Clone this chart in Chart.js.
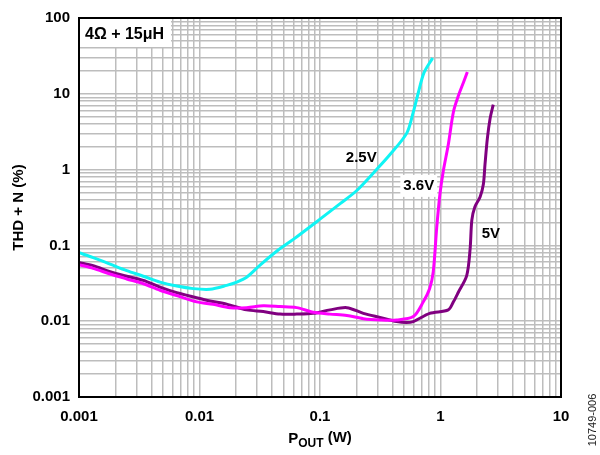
<!DOCTYPE html>
<html>
<head>
<meta charset="utf-8">
<script src="https://cdn.jsdelivr.net/npm/chart.js@4"></script>
<style>
  html, body { margin: 0; padding: 0; background: #fff; }
  #wrap { width: 600px; height: 455px; }
</style>
</head>
<body>
<div id="wrap"><canvas id="myChart" width="600" height="455"></canvas></div>
<script>
// valori (P in W, THD+N in %)
const x25 = [0.001, 0.00131, 0.00181, 0.00249, 0.00342, 0.0047, 0.00647, 0.0089, 0.0122, 0.0168, 0.0204, 0.0246, 0.0318, 0.045, 0.06, 0.1, 0.147, 0.202, 0.296, 0.381, 0.525, 0.595, 0.655, 0.73, 0.861];
const y25 = [0.080, 0.069, 0.0566, 0.0465, 0.0392, 0.0328, 0.0291, 0.0269, 0.0264, 0.0297, 0.0328, 0.038, 0.055, 0.087, 0.12, 0.222, 0.356, 0.53, 1.01, 1.58, 3.03, 5.76, 10.4, 19, 29.7];

const x36 = [0.001, 0.00131, 0.00181, 0.00249, 0.00342, 0.0047, 0.00647, 0.00948, 0.013, 0.0179, 0.0246, 0.0338, 0.0466, 0.064, 0.088, 0.121, 0.167, 0.229, 0.315, 0.433, 0.595, 0.72, 0.813, 0.871, 0.93, 0.99, 1.055, 1.16, 1.28, 1.41, 1.55, 1.67];
const y36 = [0.0556, 0.0498, 0.042, 0.0361, 0.0312, 0.0256, 0.0218, 0.018, 0.0167, 0.0151, 0.0151, 0.016, 0.0156, 0.0151, 0.0131, 0.0124, 0.0119, 0.0108, 0.0104, 0.0104, 0.0115, 0.018, 0.027, 0.045, 0.17, 0.48, 0.96, 2.13, 5.76, 9.5, 14.1, 19.4];

const x5 = [0.001, 0.00131, 0.00181, 0.00249, 0.00342, 0.0047, 0.00647, 0.0089, 0.0122, 0.0168, 0.0246, 0.0338, 0.0466, 0.064, 0.088, 0.121, 0.167, 0.229, 0.315, 0.433, 0.52, 0.595, 0.813, 1.16, 1.28, 1.41, 1.65, 1.76, 1.82, 1.93, 2.13, 2.27, 2.34, 2.45, 2.58, 2.74];
const y5 = [0.0596, 0.054, 0.0451, 0.0392, 0.0345, 0.0282, 0.0238, 0.0209, 0.0185, 0.0168, 0.0141, 0.0134, 0.0124, 0.0124, 0.0127, 0.0141, 0.0151, 0.0127, 0.0112, 0.0099, 0.0096, 0.0099, 0.0127, 0.0141, 0.018, 0.0243, 0.040, 0.0885, 0.216, 0.323, 0.435, 0.647, 1.17, 2.6, 4.73, 7.18];

const xDecades = [0.001, 0.01, 0.1, 1, 10];
const xTickLabels = ['0.001', '0.01', '0.1', '1', '10'];
const yDecades = [0.001, 0.01, 0.1, 1, 10, 100];
const yTickLabels = ['0.001', '0.01', '0.1', '1', '10', '100'];

const curveLabels = [
  { text: '2.5V', x: 0.22, y: 1.45, box: false },
  { text: '3.6V', x: 0.66, y: 0.61, box: true },
  { text: '5V', x: 2.62, y: 0.141, box: false }
];

function punti(xs, ys) {
  return xs.map((v, i) => ({ x: v, y: ys[i] }));
}

function logTicks(decades) {
  const t = [];
  decades.forEach((d, i) => {
    if (i === decades.length - 1) { t.push({ value: d }); return; }
    for (let s = 1; s <= 9; s++) t.push({ value: d * s });
  });
  return t;
}

function labelFor(value, decades, labels) {
  for (let i = 0; i < decades.length; i++) {
    if (Math.abs(value - decades[i]) / decades[i] < 1e-6) return labels[i];
  }
  return '';
}

const FONT = '"Liberation Sans", Arial, sans-serif';

const decor = {
  id: 'decor',
  afterDraw(chart) {
    const ctx = chart.ctx;
    const a = chart.chartArea;
    const sx = chart.scales.x, sy = chart.scales.y;
    ctx.save();

    // etichette delle curve
    ctx.font = 'bold 15px ' + FONT;
    ctx.textAlign = 'center';
    ctx.textBaseline = 'middle';
    curveLabels.forEach(l => {
      const px = sx.getPixelForValue(l.x), py = sy.getPixelForValue(l.y);
      if (l.box) {
        const w = ctx.measureText(l.text).width + 6;
        ctx.fillStyle = '#fff';
        ctx.fillRect(px - w / 2, py - 11, w, 22);
      }
      ctx.fillStyle = '#000';
      ctx.fillText(l.text, px, py);
    });

    // riquadro in alto a sinistra
    ctx.fillStyle = '#fff';
    ctx.fillRect(a.left, a.top, 92, 29);
    ctx.fillStyle = '#000';
    ctx.font = 'bold 16px ' + FONT;
    ctx.textAlign = 'left';
    ctx.textBaseline = 'alphabetic';
    ctx.fillText('4Ω + 15μH', a.left + 6, a.top + 21);

    // bordo
    ctx.strokeStyle = '#000';
    ctx.lineWidth = 2;
    ctx.strokeRect(a.left, a.top, a.right - a.left, a.bottom - a.top);

    // titolo asse y
    ctx.font = 'bold 15px ' + FONT;
    ctx.save();
    ctx.translate(19, (a.top + a.bottom) / 2);
    ctx.rotate(-Math.PI / 2);
    ctx.textAlign = 'center';
    ctx.textBaseline = 'middle';
    ctx.fillText('THD + N (%)', 0, 0);
    ctx.restore();

    // titolo asse x con pedice
    const cx = (a.left + a.right) / 2;
    const base = 445;
    ctx.font = 'bold 15px ' + FONT;
    const wP = ctx.measureText('P').width;
    ctx.font = 'bold 12px ' + FONT;
    const wOut = ctx.measureText('OUT').width;
    ctx.font = 'bold 15px ' + FONT;
    const wW = ctx.measureText(' (W)').width;
    let x0 = cx - (wP + wOut + wW) / 2;
    ctx.textAlign = 'left';
    ctx.textBaseline = 'alphabetic';
    ctx.fillText('P', x0, base - 2);
    ctx.font = 'bold 12px ' + FONT;
    ctx.fillText('OUT', x0 + wP, base + 2);
    ctx.font = 'bold 15px ' + FONT;
    ctx.fillText(' (W)', x0 + wP + wOut, base - 3);

    // codice figura
    ctx.font = '11px ' + FONT;
    ctx.save();
    ctx.translate(593, 420);
    ctx.rotate(-Math.PI / 2);
    ctx.textAlign = 'center';
    ctx.textBaseline = 'middle';
    ctx.fillStyle = '#222';
    ctx.fillText('10749-006', 0, 0);
    ctx.restore();

    ctx.restore();
  }
};

const data = {
  datasets: [
    { label: '3.6V', data: punti(x36, y36), borderColor: '#ff00ff' },
    { label: '5V', data: punti(x5, y5), borderColor: '#800080' },
    { label: '2.5V', data: punti(x25, y25), borderColor: '#10f4f4' }
  ]
};

const config = {
  type: 'line',
  data: data,
  options: {
    responsive: false,
    animation: false,
    layout: { padding: { left: 0, right: 39, top: 11, bottom: 0 } },
    elements: {
      point: { radius: 0 },
      line: { borderWidth: 3, tension: 0.3, fill: false }
    },
    plugins: {
      legend: { display: false },
      tooltip: { enabled: false }
    },
    scales: {
      x: {
        type: 'logarithmic',
        min: 0.001,
        max: 10,
        afterFit(scale) { scale.height = 58; },
        afterBuildTicks(scale) { scale.ticks = logTicks(xDecades); },
        grid: { color: '#bdbdbd', lineWidth: 1.5, drawTicks: false },
        border: { display: false },
        ticks: {
          autoSkip: false,
          maxRotation: 0,
          padding: 11,
          color: '#000',
          font: { family: FONT, size: 15, weight: 'bold' },
          callback: (v) => labelFor(v, xDecades, xTickLabels)
        }
      },
      y: {
        type: 'logarithmic',
        min: 0.001,
        max: 100,
        afterFit(scale) { scale.width = 79; },
        afterBuildTicks(scale) { scale.ticks = logTicks(yDecades); },
        grid: { color: '#bdbdbd', lineWidth: 1.5, drawTicks: false },
        border: { display: false },
        ticks: {
          autoSkip: false,
          padding: 9,
          color: '#000',
          font: { family: FONT, size: 15, weight: 'bold' },
          callback: (v) => labelFor(v, yDecades, yTickLabels)
        }
      }
    }
  },
  plugins: [decor]
};

const myChart = new Chart(document.getElementById('myChart'), config);
</script>
</body>
</html>
